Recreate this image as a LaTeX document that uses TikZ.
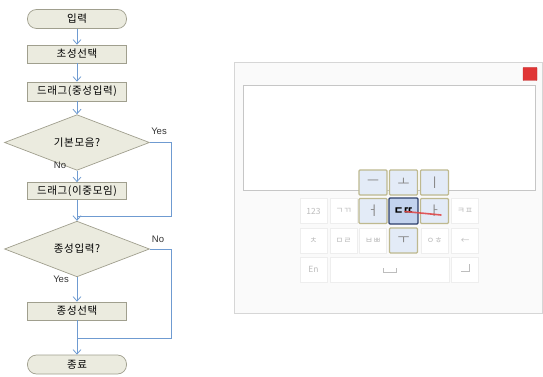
\documentclass[tikz,border=0pt]{standalone}
\usepackage{fontspec}
\setmainfont{Noto Sans CJK KR}
\newfontfamily\latfont{Liberation Sans}
\newfontfamily\spacedfont[LetterSpace=6]{Noto Sans CJK KR}
\usetikzlibrary{shapes.geometric,arrows.meta}
\definecolor{boxfill}{HTML}{EBEBDF}
\definecolor{boxline}{HTML}{A09F8E}
\definecolor{flow}{HTML}{6F9BD1}
\definecolor{panelfill}{HTML}{FAFAFA}
\definecolor{panelline}{HTML}{D6D6D6}
\definecolor{areaLine}{HTML}{C6C6C6}
\definecolor{keyline}{HTML}{EEEEEE}
\definecolor{keytext}{HTML}{BDBDBD}
\definecolor{popfill}{HTML}{E3EBF7}
\definecolor{popline}{HTML}{BEB98F}
\definecolor{poptext}{HTML}{8A8A8A}
\definecolor{selfill}{HTML}{C3D3EE}
\definecolor{selline}{HTML}{2C3E6B}
\definecolor{closered}{HTML}{E03535}
\definecolor{dragred}{HTML}{E04848}
\begin{document}
\begin{tikzpicture}[x=1pt,y=-1pt,
  proc/.style={draw=boxline, fill=boxfill, line width=0.7pt, minimum width=99pt, minimum height=18pt, inner sep=0pt, font=\spacedfont\fontsize{10.5}{12}\selectfont},
  term/.style={proc, rounded corners=9pt, minimum height=19pt},
  dec/.style={diamond, draw=boxline, fill=boxfill, line width=0.7pt, minimum width=145pt, minimum height=39pt, inner sep=0pt, font=\spacedfont\fontsize{10.5}{12}\selectfont},
  flowline/.style={draw=flow, line width=0.8pt},
  arr/.style={flowline, -{Straight Barb[length=4.5pt,width=8pt]}},
  lab/.style={font=\latfont\fontsize{9.5}{10}\selectfont, text=black!80, inner sep=0pt},
  key/.style={draw=keyline, fill=white, minimum width=27pt, minimum height=25pt, inner sep=0pt, text=keytext, font=\fontsize{8.5}{9}\selectfont},
  popkey/.style={draw=popline, fill=popfill, line width=1.1pt, rounded corners=1pt, minimum width=28pt, minimum height=25pt, inner sep=0pt, text=poptext, font=\fontsize{13}{14}\selectfont},
  selkey/.style={draw=selline, fill=selfill, line width=1.2pt, rounded corners=1pt, minimum width=29pt, minimum height=26pt, inner sep=0pt, text=black, font=\bfseries\fontsize{10.5}{11}\selectfont},
  faint/.style={draw=keytext, line width=0.7pt}
]
\useasboundingbox (0,0) rectangle (543,377);

% ---------------- flowchart ----------------
\node[term] (start) at (77,19) {입력};
\node[proc] (s1) at (77,54) {초성선택};
\node[proc, minimum height=19pt] (s2) at (77,91.5) {드래그(중성입력)};
\node[dec] (d1) at (77,142.5) {기본모음?};
\node[proc, minimum height=17pt] (s3) at (77,191) {드래그(이중모임)};
\coordinate (m1) at (77,216);
\node[dec, minimum height=38pt] (d2) at (77,249) {종성입력?};
\node[proc] (s4) at (77,311) {종성선택};
\coordinate (m2) at (77,338);
\node[term] (end) at (77,364.5) {종료};

\draw[arr] (start) -- (s1);
\draw[arr] (s1) -- (s2);
\draw[arr] (s2) -- (d1);
\draw[arr] (d1) -- (s3);
\draw[flowline] (s3) -- (m1);
\draw[arr] (m1) -- (d2);
\draw[flowline] (d1.east) -- ++(22,0) |- (m1);
\draw[arr] (d2) -- (s4);
\draw[flowline] (s4) -- (m2);
\draw[arr] (m2) -- (end);
\draw[flowline] (d2.east) -- ++(22,0) |- (m2);

\node[lab] (y1) at (159,131) {Yes};
\node[lab] (n1) at (60,165.5) {No};
\node[lab] (n2) at (158,239) {No};
\node[lab] (y2) at (61,279.5) {Yes};

% ---------------- keyboard panel ----------------
\node[draw=panelline, fill=panelfill, line width=0.8pt, minimum width=308pt, minimum height=251pt, inner sep=0pt] (panel) at (388,187.5) {};
\node[draw=closered!85!black, fill=closered, minimum width=14pt, minimum height=13pt, inner sep=0pt, rounded corners=0.5pt] (close) at (530,74) {};
\node[draw=areaLine, fill=white, line width=1pt, minimum width=292pt, minimum height=104pt, inner sep=0pt] (area) at (389,138) {};

% keys
\node[key] (k123) at (313.5,211) {123};
\node[key] (kgg) at (343.5,211) {ㄱㄲ};
\node[key] (kkp) at (465,211) {ㅋㅍ};
\node[key] (kch) at (313.5,240.5) {ㅊ};
\node[key] (kmr) at (343.5,240.5) {ㅁㄹ};
\node[key] (kbb) at (373,240.5) {ㅂㅃ};
\node[key] (koh) at (434.5,240.5) {ㅇㅎ};
\node[key] (kback) at (465,240.5) {←};
\node[key] (ken) at (313.5,269.5) {En};
\node[key, minimum width=119pt] (kspace) at (389.5,269.5) {};
\node[key] (kret) at (465,269.5) {};
\draw[faint] (383,268) -- (383,272.5) -- (396,272.5) -- (396,268);
\draw[faint] (469,264) -- (469,271) -- (461,271);

% popup keys
\node[popkey] (p1) at (373,182.5) {ㅡ};
\node[popkey] (p2) at (403.5,182.5) {ㅗ};
\node[popkey] (p3) at (434.5,182.5) {ㅣ};
\node[popkey] (p4) at (373,211) {ㅓ};
\node[popkey] (p5) at (434.5,211) {ㅏ};
\node[popkey] (p6) at (403.5,240.5) {ㅜ};
\node[selkey] (sel) at (403.5,211) {ㄷㄸ};

% drag trace
\coordinate (dragA) at (405,211.5);
\coordinate (dragB) at (441,215);
\draw[dragred, line width=1.6pt, line cap=round, opacity=0.9] (dragA) -- (dragB);
\end{tikzpicture}
\end{document}
